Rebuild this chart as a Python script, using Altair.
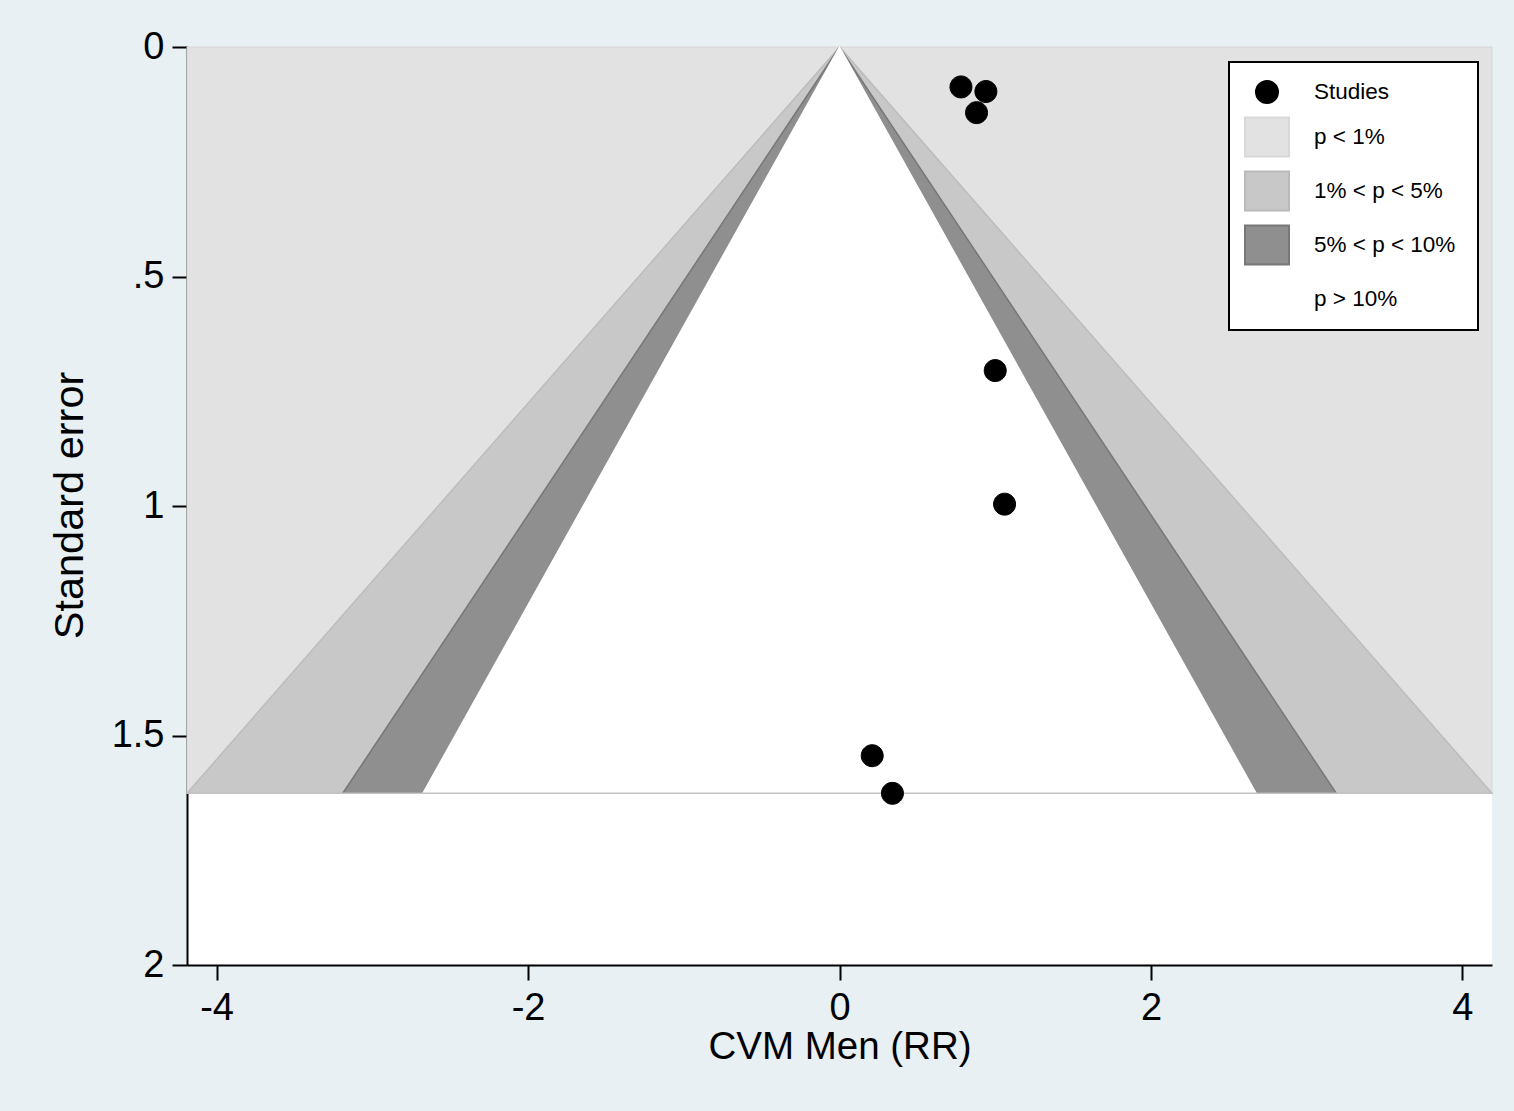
import altair as alt
import pandas as pd

# ---- data ----
STUDY_RR = [0.78, 0.94, 0.88, 1.00, 1.06, 0.21, 0.34]
STUDY_SE = [0.087, 0.097, 0.143, 0.705, 0.996, 1.544, 1.626]

SE_MAX = 1.626                    # bottom of the contour funnel
X_LIMITS = [-4.19, 4.19]          # plot region in effect units
Y_LIMITS = [0, 2]
# half-width of each contour boundary at SE_MAX (1%, 5%, 10%)
CONTOUR_HALF_WIDTH = [4.19, 3.19, 2.675]
CONTOUR_FILLS = ["#c8c8c8", "#8f8f8f", "#ffffff"]
CONTOUR_STROKES = ["#bcbcbc", "#777777", "#ffffff"]
OUTER_FILL = "#e2e2e2"

LEGEND_LABELS = ["Studies", "p < 1%", "1% < p < 5%", "5% < p < 10%", "p > 10%"]
LEGEND_FILLS = ["#000000", "#e2e2e2", "#c8c8c8", "#8f8f8f", "#ffffff"]
LEGEND_STROKES = ["#000000", "#d8d8d8", "#bababa", "#777777", "#ffffff"]

X_TICKS = [-4, -2, 0, 2, 4]
Y_TICKS = [0, 0.5, 1, 1.5, 2]

CIRCLE = "M-0.5,0A0.5,0.5,0,1,0,0.5,0A0.5,0.5,0,1,0,-0.5,0Z"
RECT = "M-1,-0.886H1V0.886H-1Z"
LEGEND_SHAPES = [CIRCLE, RECT, RECT, RECT, RECT]

FONT = "Liberation Sans"
X_TITLE = "CVM Men (RR)"
Y_TITLE = "Standard error"

xscale = alt.Scale(domain=X_LIMITS, nice=False, zero=False)
yscale = alt.Scale(domain=Y_LIMITS, nice=False, zero=False, reverse=True)

xaxis = alt.Axis(
    values=X_TICKS, grid=False,
    labelFontSize=38, titleFontSize=38.5, labelFont=FONT, titleFont=FONT,
    labelColor="black", titleColor="black", titleFontWeight="normal",
    tickSize=15, tickWidth=2, tickColor="black", domainColor="black", domainWidth=2,
    labelBaseline="alphabetic", labelPadding=39, labelFlush=False,
    labelExpr="'' + datum.value",
    titleBaseline="alphabetic", titleY=93)
yaxis = alt.Axis(
    values=Y_TICKS, grid=False, labelAngle=0,
    labelFontSize=38, titleFontSize=41.5, labelFont=FONT, titleFont=FONT,
    labelColor="black", titleColor="black", titleFontWeight="normal",
    tickSize=15, tickWidth=2, tickColor="black", domainColor="black", domainWidth=2,
    labelPadding=8, labelFlush=False,
    labelExpr="datum.value == 0.5 ? '.5' : '' + datum.value",
    titleBaseline="alphabetic", titleX=-105, titleY=458)


def X(field):
    return alt.X(field, scale=xscale, axis=xaxis, title=X_TITLE)


def Y(field):
    return alt.Y(field, scale=yscale, axis=yaxis, title=Y_TITLE)


# ---- outer (p < 1%) rectangle ----
outer_df = pd.DataFrame({"x": [X_LIMITS[0]], "x2": [X_LIMITS[1]], "y": [0], "y2": [SE_MAX]})
outer = alt.Chart(outer_df).mark_rect(fill=OUTER_FILL, stroke="#d6d6d6", strokeWidth=1).encode(
    x=X("x:Q"), x2="x2:Q", y=Y("y:Q"), y2="y2:Q",
)

layers = [outer]
for hw, fill, stroke in zip(CONTOUR_HALF_WIDTH, CONTOUR_FILLS, CONTOUR_STROKES):
    df = pd.DataFrame({"se": [0, SE_MAX], "lo": [0, -hw], "hi": [0, hw]})
    layers.append(
        alt.Chart(df).mark_area(orient="horizontal", fill=fill, stroke=stroke, strokeWidth=1.5, opacity=1).encode(
            y=Y("se:Q"), x=X("lo:Q"), x2="hi:Q",
        )
    )

rule_df = pd.DataFrame({"x": [X_LIMITS[0]], "x2": [X_LIMITS[1]], "y": [SE_MAX]})
layers.append(
    alt.Chart(rule_df).mark_rule(color="#c4c4c4", strokeWidth=1.5).encode(
        x=X("x:Q"), x2="x2:Q", y=Y("y:Q"),
    )
)

LEGEND_TITLE = " "
pts_df = pd.DataFrame({"rr": STUDY_RR, "se": STUDY_SE, "group": ["Studies"] * len(STUDY_RR)})
points = alt.Chart(pts_df).mark_point(filled=True, opacity=1, size=1936, strokeWidth=1).encode(
    x=X("rr:Q"),
    y=Y("se:Q"),
    fill=alt.Fill("group:N", title=LEGEND_TITLE,
                  scale=alt.Scale(domain=LEGEND_LABELS, range=LEGEND_FILLS)),
    stroke=alt.Stroke("group:N", title=LEGEND_TITLE,
                      scale=alt.Scale(domain=LEGEND_LABELS, range=LEGEND_STROKES)),
    shape=alt.Shape("group:N", title=LEGEND_TITLE,
                    scale=alt.Scale(domain=LEGEND_LABELS, range=LEGEND_SHAPES)),
)
layers.append(points)

chart = alt.layer(*layers).properties(
    width=1305, height=918,
    autosize=alt.AutoSizeParams(type="none"),
    padding={"left": 187, "top": 47, "right": 22, "bottom": 146},
    background="#e8f0f3",
).configure_view(
    fill="white", strokeWidth=0
).configure_legend(
    orient="none", legendX=1042, legendY=15,
    fillColor="white", strokeColor="black", strokeWidth=2,
    padding=7, rowPadding=6, symbolSize=1936, symbolStrokeWidth=2, symbolOffset=8,
    labelFont=FONT, labelFontSize=22.5, labelColor="black", labelOffset=24,
    labelLimit=400,
    titleOrient="right", titlePadding=16, titleFontSize=10, titleFont=FONT,
)

chart.save("out.html", embed_options={"renderer": "svg", "actions": False})
